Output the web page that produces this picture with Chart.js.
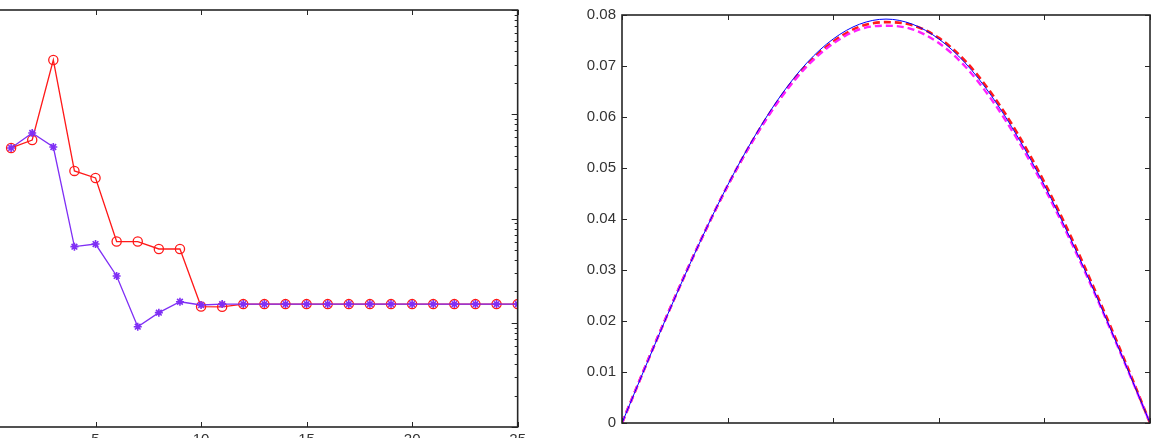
<!DOCTYPE html>
<html>
<head>
<meta charset="utf-8">
<script src="https://cdn.jsdelivr.net/npm/chart.js@4/dist/chart.umd.min.js"></script>
<style>
  html, body { margin: 0; padding: 0; background: #fff; }
  body { width: 1158px; height: 438px; overflow: hidden; position: relative; }
  .box { position: absolute; top: 0; }
  #leftBox { left: -20px; width: 550px; height: 470px; }
  #rightBox { left: 560px; width: 598px; height: 438px; }
</style>
</head>
<body>
<div class="box" id="leftBox"><canvas id="errChart"></canvas></div>
<div class="box" id="rightBox"><canvas id="curveChart"></canvas></div>
<script>
// left plot: error per iteration (log scale)
const iterations = [1,2,3,4,5,6,7,8,9,10,11,12,13,14,15,16,17,18,19,20,21,22,23,24,25];
const errCircle = [0.0475, 0.0566, 0.331, 0.0286, 0.0245, 0.00601, 0.00601, 0.0051, 0.0051, 0.00143,
                   0.00142, 0.00151, 0.00151, 0.00151, 0.00151, 0.00151, 0.00151, 0.00151, 0.00151, 0.00151,
                   0.00151, 0.00151, 0.00151, 0.00151, 0.00151];
const errStar = [0.0475, 0.0661, 0.0485, 0.00537, 0.00569, 0.00281, 0.000916, 0.00125, 0.00159, 0.00148,
                 0.00151, 0.00151, 0.00151, 0.00151, 0.00151, 0.00151, 0.00151, 0.00151, 0.00151, 0.00151,
                 0.00151, 0.00151, 0.00151, 0.00151, 0.00151];
const xTicksLeft = [0, 5, 10, 15, 20, 25];

// right plot: profiles
const xs = [0, 0.05, 0.1, 0.15, 0.2, 0.25, 0.3, 0.35, 0.4, 0.45, 0.5,
            0.55, 0.6, 0.65, 0.7, 0.75, 0.8, 0.85, 0.9, 0.95, 1];
const exactY = [0, 0.0124, 0.0245, 0.036, 0.0466, 0.056, 0.0641, 0.0706, 0.0753, 0.0782, 0.0792,
                0.0782, 0.0753, 0.0706, 0.0641, 0.056, 0.0466, 0.036, 0.0245, 0.0124, 0];
const redY = [0, 0.0125, 0.0246, 0.036, 0.0465, 0.0558, 0.0638, 0.0702, 0.0748, 0.0777, 0.0786,
              0.078, 0.0755, 0.071, 0.0646, 0.0566, 0.0472, 0.0366, 0.025, 0.0128, 0];
const magentaY = [0, 0.0125, 0.0246, 0.036, 0.0465, 0.0557, 0.0636, 0.0699, 0.0744, 0.0772, 0.0779,
                  0.0772, 0.0745, 0.0699, 0.0634, 0.0554, 0.0461, 0.0356, 0.0243, 0.0123, 0];
const xTicksRight = [0, 0.2, 0.4, 0.6, 0.8, 1];
const yTicksRight = [0, 0.01, 0.02, 0.03, 0.04, 0.05, 0.06, 0.07, 0.08];

function pts(xv, yv) {
    return xv.map((x, i) => ({x: x, y: yv[i]}));
}

// draws the axes box with inward tick marks on all four sides
const boxPlugin = {
    id: 'boxPlugin',
    afterDraw(chart, args, opts) {
        const ctx = chart.ctx;
        const a = chart.chartArea;
        const xs = chart.scales.x, ys = chart.scales.y;
        ctx.save();
        ctx.strokeStyle = '#262626';
        ctx.lineWidth = 1;
        opts.xTicks.forEach(v => {
            const px = Math.round(xs.getPixelForValue(v)) + 0.5;
            ctx.beginPath();
            ctx.moveTo(px, a.bottom); ctx.lineTo(px, a.bottom - 5);
            ctx.moveTo(px, a.top); ctx.lineTo(px, a.top + 5);
            ctx.stroke();
        });
        let yt = [];
        if (opts.log) {
            for (let e = opts.minExp; e < opts.maxExp; e++) {
                for (let k = 1; k <= 9; k++) yt.push({v: k * Math.pow(10, e), len: k === 1 ? 6 : 3});
            }
            yt.push({v: Math.pow(10, opts.maxExp), len: 6});
        } else {
            yt = opts.yTicks.map(v => ({v: v, len: 5}));
        }
        yt.forEach(t => {
            const py = Math.round(ys.getPixelForValue(t.v)) + 0.5;
            ctx.beginPath();
            ctx.moveTo(a.left, py); ctx.lineTo(a.left + t.len, py);
            ctx.moveTo(a.right, py); ctx.lineTo(a.right - t.len, py);
            ctx.stroke();
        });
        ctx.lineWidth = 1.6;
        ctx.strokeRect(a.left, a.top, a.right - a.left, a.bottom - a.top);
        ctx.restore();
    }
};

Chart.defaults.font.family = '"Liberation Sans", Arial, sans-serif';
Chart.defaults.color = '#333';

new Chart(document.getElementById('errChart'), {
    type: 'line',
    data: {
        datasets: [{
            data: pts(iterations, errStar),
            borderColor: '#7f2ff5',
            backgroundColor: '#7f2ff5',
            borderWidth: 1.3,
            pointStyle: 'star',
            pointRadius: 4,
            pointBorderWidth: 1.6,
            order: 0
        }, {
            data: pts(iterations, errCircle),
            borderColor: '#ff1a1a',
            backgroundColor: 'rgba(0,0,0,0)',
            borderWidth: 1.3,
            pointStyle: 'circle',
            pointRadius: 4.6,
            pointBorderWidth: 1.3,
            order: 1
        }]
    },
    options: {
        responsive: true,
        maintainAspectRatio: false,
        animation: false,
        layout: {padding: {left: 10, right: 10, top: 10, bottom: 0}},
        plugins: {
            legend: {display: false},
            tooltip: {enabled: false},
            boxPlugin: {xTicks: xTicksLeft, log: true, minExp: -4, maxExp: 0}
        },
        scales: {
            x: {
                type: 'linear', min: 0, max: 25,
                grid: {display: false, drawTicks: false},
                border: {display: false},
                ticks: {stepSize: 5, padding: 4, font: {size: 15}, color: '#333', autoSkip: false},
                afterFit: s => { s.height = 43; }
            },
            y: {
                type: 'logarithmic', min: 0.0001, max: 1,
                grid: {display: false, drawTicks: false},
                border: {display: false},
                ticks: {display: false},
                afterFit: s => { s.width = 0; }
            }
        }
    },
    plugins: [boxPlugin]
});

new Chart(document.getElementById('curveChart'), {
    type: 'line',
    data: {
        datasets: [{
            data: pts(xs, exactY),
            borderColor: '#0000ff',
            borderWidth: 1,
            pointRadius: 0,
            cubicInterpolationMode: 'monotone',
            order: 0
        }, {
            data: pts(xs, magentaY),
            borderColor: '#ff20ff',
            borderWidth: 2.4,
            borderDash: [7, 4],
            pointRadius: 0,
            cubicInterpolationMode: 'monotone',
            order: 1
        }, {
            data: pts(xs, redY),
            borderColor: '#ff1a1a',
            borderWidth: 2.6,
            borderDash: [7, 4],
            pointRadius: 0,
            cubicInterpolationMode: 'monotone',
            order: 2
        }]
    },
    options: {
        responsive: true,
        maintainAspectRatio: false,
        animation: false,
        layout: {padding: {left: 0, right: 8, top: 10, bottom: 8}},
        plugins: {
            legend: {display: false},
            tooltip: {enabled: false},
            boxPlugin: {xTicks: xTicksRight, yTicks: yTicksRight, log: false}
        },
        scales: {
            x: {
                type: 'linear', min: 0, max: 1,
                grid: {display: false, drawTicks: false},
                border: {display: false},
                ticks: {display: false},
                afterFit: s => { s.height = 0; }
            },
            y: {
                min: 0, max: 0.08,
                grid: {display: false, drawTicks: false},
                border: {display: false},
                ticks: {stepSize: 0.01, padding: 6, font: {size: 15}, color: '#333'},
                afterFit: s => { s.width = 62; }
            }
        }
    },
    plugins: [boxPlugin]
});
</script>
</body>
</html>
